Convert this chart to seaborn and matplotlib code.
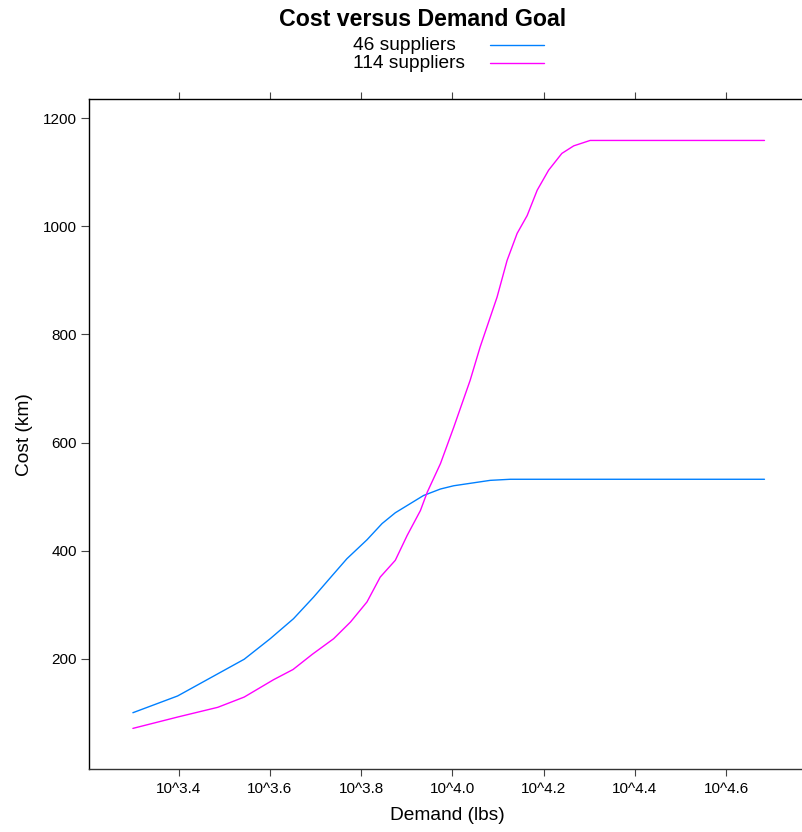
import matplotlib
matplotlib.use("Agg")
import matplotlib.pyplot as plt
import seaborn as sns
import pandas as pd

# log10 of demand (lbs) and cost (km) for each supplier count
log_demand_46 = [3.300, 3.398, 3.544, 3.601, 3.652, 3.696, 3.737, 3.769, 3.813,
                 3.846, 3.875, 3.937, 3.974, 4.003, 4.083, 4.127, 4.684]
cost_46 = [100, 131, 199, 237, 274, 314, 354, 385, 420,
           450, 470, 502, 514, 520, 530, 532, 532]

log_demand_114 = [3.300, 3.398, 3.486, 3.544, 3.608, 3.651, 3.693, 3.740, 3.777,
                  3.813, 3.842, 3.875, 3.901, 3.930, 3.945, 3.974, 4.003, 4.039,
                  4.061, 4.098, 4.120, 4.142, 4.164, 4.186, 4.211, 4.240, 4.266,
                  4.302, 4.684]
cost_114 = [71, 92, 110, 129, 161, 180, 208, 237, 268,
            305, 351, 382, 428, 474, 508, 561, 628, 715,
            777, 869, 937, 987, 1020, 1067, 1104, 1135, 1149,
            1159, 1159]

series_labels = ["46 suppliers", "114 suppliers"]
series_colors = ["#0080ff", "#ff00ff"]

x_ticks = [3.4, 3.6, 3.8, 4.0, 4.2, 4.4, 4.6]
x_tick_labels = ["10^3.4", "10^3.6", "10^3.8", "10^4.0", "10^4.2", "10^4.4", "10^4.6"]
y_ticks = [200, 400, 600, 800, 1000, 1200]

df = pd.concat([
    pd.DataFrame({"demand": log_demand_46, "cost": cost_46, "group": series_labels[0]}),
    pd.DataFrame({"demand": log_demand_114, "cost": cost_114, "group": series_labels[1]}),
], ignore_index=True)

sns.set_theme(style="white")
plt.rcParams["font.family"] = ["Liberation Sans", "DejaVu Sans"]

fig = plt.figure(figsize=(8.02, 8.32), dpi=100)
W, H = 802, 832
left, right, top, bottom = 89.3, 806, 99, 769.3
ax = fig.add_axes([left / W, (H - bottom) / H, (right - left) / W, (bottom - top) / H])

sns.lineplot(data=df, x="demand", y="cost", hue="group", hue_order=series_labels,
             palette=series_colors, sort=False, estimator=None, linewidth=1.0,
             legend=False, ax=ax)

ax.set_xlim(3.2045, 4.775)
ax.set_ylim(-4.7, 1235.7)

ax.set_xticks(x_ticks)
ax.set_xticklabels(x_tick_labels)
ax.set_yticks(y_ticks)
ax.set_yticklabels([str(v) for v in y_ticks])
ax.tick_params(axis="x", which="both", bottom=True, top=True, direction="out",
               length=5, width=0.8, color="#444444", labelsize=11, pad=4,
               labelcolor="black")
ax.tick_params(axis="y", which="both", left=True, right=False, direction="out",
               length=6, width=0.8, color="#444444", labelsize=11, pad=3,
               labelcolor="black")
for side in ["left", "top", "right"]:
    ax.spines[side].set_color("black")
    ax.spines[side].set_linewidth(1.0)
ax.spines["bottom"].set_color("#333333")
ax.spines["bottom"].set_linewidth(1.0)
ax.grid(False)

ax.set_xlabel("Demand (lbs)", fontsize=13.75, labelpad=8, color="black")
ax.set_ylabel("Cost (km)", fontsize=13.75, labelpad=7, color="black")

fig.text(423 / W, 1 - 26 / H, "Cost versus Demand Goal", ha="center", va="baseline",
         fontsize=16.7, fontweight="bold", color="black")

# legend: labels on the left, line samples on the right
legend_rows = [45, 63]
for label, color, yrow in zip(series_labels, series_colors, legend_rows):
    fig.text(353 / W, 1 - yrow / H, label, ha="left", va="center",
             fontsize=13.75, color="black")
    fig.add_artist(plt.Line2D([490 / W, 544 / W], [1 - yrow / H, 1 - yrow / H],
                              color=color, linewidth=1.0, transform=fig.transFigure))

fig.savefig("out.png", dpi=100, facecolor="white")
